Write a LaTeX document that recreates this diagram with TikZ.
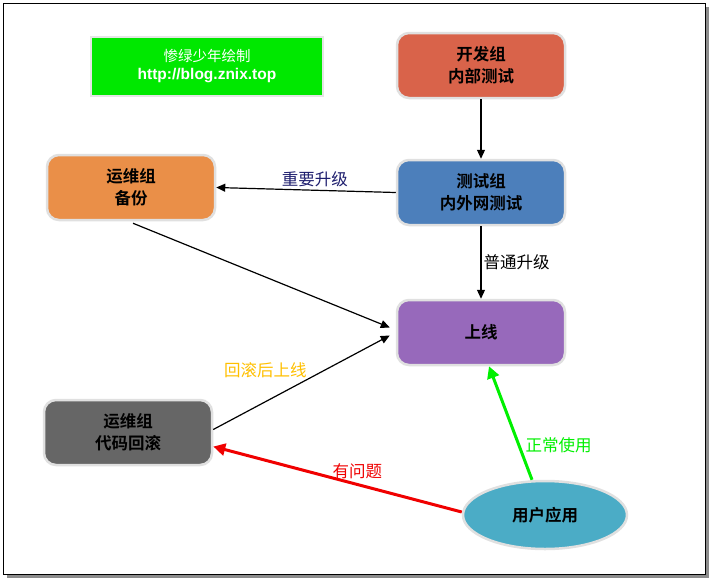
\documentclass[tikz,border=0pt]{standalone}
\usepackage{fontspec}
\setmainfont{Liberation Sans}
\newfontfamily\cjk{Noto Sans CJK SC}
\newfontfamily\cjkb{Noto Sans CJK SC Bold}
\usetikzlibrary{arrows.meta,shapes.geometric,calc}
\definecolor{devc}{RGB}{217,99,74}
\definecolor{testc}{RGB}{76,127,187}
\definecolor{bakc}{RGB}{234,143,72}
\definecolor{onc}{RGB}{151,105,187}
\definecolor{rbc}{RGB}{102,102,102}
\definecolor{userc}{RGB}{75,172,198}
\definecolor{signc}{RGB}{0,232,0}
\definecolor{navyc}{RGB}{30,30,110}
\definecolor{goldc}{RGB}{255,192,0}
\definecolor{okc}{RGB}{0,240,0}
\definecolor{badc}{RGB}{240,0,0}
\tikzset{
  box/.style={rounded corners=12pt, minimum width=168pt, minimum height=65pt,
    draw=black!12, line width=2.5pt, align=center, font=\cjkb\fontsize{16.5}{22}\selectfont,
    text=black, inner sep=0pt},
  conn/.style={draw=black, line width=1.2pt, -{Triangle[length=9pt,width=8pt]}},
  thick conn/.style={line width=3pt, -{Triangle[length=12pt,width=12pt]}},
  lbl/.style={font=\cjk\fontsize{16.5}{19}\selectfont, inner sep=1pt}
}
\begin{document}
\begin{tikzpicture}[x=1pt,y=-1pt]
\useasboundingbox (0,0) rectangle (712,584);
% frame
\fill[black!45] (7,7) rectangle (709,578);
\draw[fill=white, line width=1pt] (3,3) rectangle (705,574);
% title box
\node[fill=signc, draw=black!10, line width=2pt, minimum width=232pt, minimum height=59pt, align=center, text=white, inner sep=0pt]
  (sign) at (207,66) {{\cjk\fontsize{14.5}{20}\selectfont 惨绿少年绘制}\\[4pt]{\bfseries\fontsize{15.5}{18}\selectfont http://blog.znix.top}};
% nodes
\node[box, fill=devc] (dev) at (481,65.5) {开发组\\内部测试};
\node[box, fill=testc] (test) at (481,192.5) {测试组\\内外网测试};
\node[box, fill=bakc] (bak) at (131,187.5) {运维组\\备份};
\node[box, fill=onc] (on) at (481,332.5) {上线};
\node[box, fill=rbc] (rb) at (128,432.5) {运维组\\代码回滚};
\node[ellipse, fill=userc, draw=black!12, line width=2.5pt, minimum width=164pt, minimum height=68pt,
  font=\cjkb\fontsize{16.5}{20}\selectfont, inner sep=0pt] (user) at (545,515) {用户应用};
% connectors
\draw[conn] (dev.south) -- (test.north);
\draw[conn] (test.west) -- node[lbl, above, text=navyc, pos=0.45, yshift=2pt] {重要升级} (bak.east);
\draw[conn] (test.south) -- node[lbl, right, text=black, xshift=1pt] {普通升级} (on.north);
\draw[conn] ($(bak.south)+(2,2)$) -- ($(on.west)+(-6,-5)$);
\draw[conn] ($(rb.east)+(0,-3)$) -- node[lbl, text=goldc, above left, pos=0.55, xshift=-2pt, yshift=-2pt] {回滚后上线} ($(on.west)+(-6,3)$);
\draw[thick conn, draw=badc, fill=badc] ($(user.west)+(0,-3)$) -- node[lbl, text=badc, above, pos=0.42, yshift=3pt] {有问题} ($(rb.east)+(0,14)$);
\draw[thick conn, draw=okc, fill=okc] ($(user.north)+(-13,0)$) -- node[lbl, text=okc, right, pos=0.3, xshift=4pt] {正常使用} ($(on.south)+(8,0)$);
\end{tikzpicture}
\end{document}
